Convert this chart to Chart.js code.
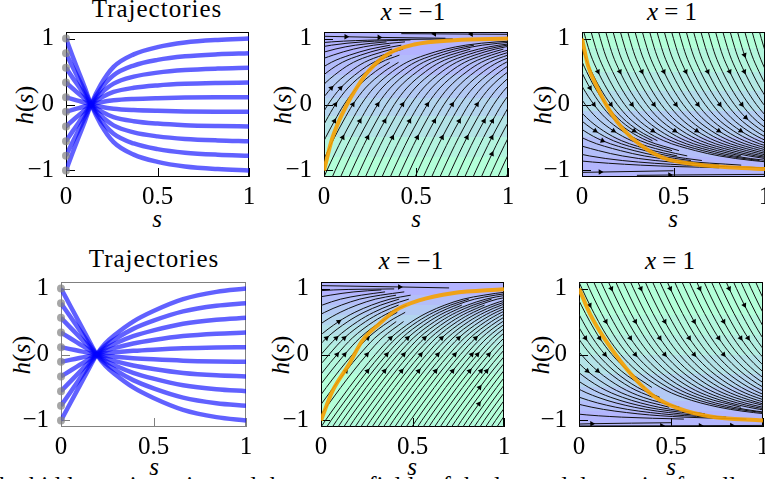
<!DOCTYPE html>
<html>
<head>
<meta charset="utf-8">
<title>Trajectories and vector fields</title>
<script src="https://cdn.jsdelivr.net/npm/chart.js@4.4.1/dist/chart.umd.min.js"></script>
<style>
  body { margin: 0; width: 765px; height: 479px; overflow: hidden; position: relative; background: #fff;
         font-family: 'Liberation Serif', 'DejaVu Serif', serif; color: #000; }
  canvas { position: absolute; }
  .lbl { position: absolute; font-size: 25px; line-height: 25px; white-space: nowrap; transform: translateX(-50%); }
  .ttl { letter-spacing: 1px; }
  .ylab { position: absolute; font-size: 25px; line-height: 25px; white-space: nowrap; transform: translate(-50%, -50%) rotate(-90deg); }
  .cap { position: absolute; left: -8px; top: 473px; font-size: 25px; line-height: 25px; white-space: nowrap; }
</style>
</head>
<body>
<div class="lbl ttl" style="left:157px; top:-4px">Trajectories</div>
<div class="lbl" style="left:413px; top:-1px"><i>x</i> = −1</div>
<div class="lbl" style="left:672px; top:-1px"><i>x</i> = 1</div>
<div class="lbl ttl" style="left:154px; top:246px">Trajectories</div>
<div class="lbl" style="left:411px; top:248px"><i>x</i> = −1</div>
<div class="lbl" style="left:670px; top:248px"><i>x</i> = 1</div>

<div class="lbl" style="left:157px; top:206px"><i>s</i></div>
<div class="lbl" style="left:416px; top:206px"><i>s</i></div>
<div class="lbl" style="left:673px; top:206px"><i>s</i></div>
<div class="lbl" style="left:154px; top:454px"><i>s</i></div>
<div class="lbl" style="left:412px; top:454px"><i>s</i></div>
<div class="lbl" style="left:671px; top:454px"><i>s</i></div>

<div class="ylab" style="left:24px; top:105px"><i>h</i>(<i>s</i>)</div>
<div class="ylab" style="left:282px; top:105px"><i>h</i>(<i>s</i>)</div>
<div class="ylab" style="left:542px; top:105px"><i>h</i>(<i>s</i>)</div>
<div class="ylab" style="left:21px; top:355px"><i>h</i>(<i>s</i>)</div>
<div class="ylab" style="left:280px; top:355px"><i>h</i>(<i>s</i>)</div>
<div class="ylab" style="left:540px; top:355px"><i>h</i>(<i>s</i>)</div>

<div class="cap">the hidden trajectories and the vector fields of the learned dynamics for all</div>

<script>
// axis ticks
const sTicks = [0, 0.5, 1];
const hTicks = [-1, 0, 1];

// trajectory panels: start values (grey dots) and the shape of the curve that starts at h = 1
const trajStarts = [1, 0.778, 0.556, 0.333, 0.111, -0.111, -0.333, -0.556, -0.778, -1];
const trajTopS = [0, 0.035, 0.07, 0.105, 0.137, 0.19, 0.26, 0.37, 0.5, 0.65, 0.83, 1.0];
const trajTopF = [1, 0.74, 0.49, 0.24, 0, -0.3, -0.57, -0.76, -0.87, -0.94, -0.98, -1.0];
const trajBotS = [0, 0.05, 0.1, 0.15, 0.193, 0.24, 0.292, 0.39, 0.5, 0.66, 0.84, 1.0];
const trajBotF = [1, 0.74, 0.48, 0.22, 0, -0.17, -0.3, -0.5, -0.66, -0.84, -0.95, -1.0];

// orange solution curves
const orangeS2 = [0, 0.043, 0.08, 0.125, 0.17, 0.24, 0.35, 0.49, 0.71, 1.0];
const orangeH2 = [-1, -0.53, -0.26, 0, 0.22, 0.5, 0.77, 0.91, 0.975, 1.0];
const orangeS3 = [0, 0.034, 0.08, 0.153, 0.226, 0.317, 0.444, 0.627, 1.0];
const orangeH3 = [1.0, 0.58, 0.28, -0.1, -0.38, -0.61, -0.81, -0.91, -0.98];
const orangeS5 = [0, 0.062, 0.153, 0.226, 0.317, 0.408, 0.536, 0.718, 1.0];
const orangeH5 = [-1, -0.56, -0.15, 0.21, 0.46, 0.67, 0.82, 0.93, 0.99];
const orangeS6 = [0, 0.061, 0.134, 0.225, 0.315, 0.406, 0.533, 0.714, 1.0];
const orangeH6 = [1, 0.61, 0.26, -0.1, -0.4, -0.63, -0.81, -0.94, -1.0];

// streamline shape per panel (field does not depend on s, so lines are shifted copies)
const baseS2 = [0, 0.016, 0.058, 0.102, 0.15, 0.202, 0.27, 0.372, 0.45, 0.55, 0.66, 0.77, 0.94, 1.2, 1.6];
const baseH2 = [-1.1, -1, -0.75, -0.5, -0.25, 0, 0.25, 0.5, 0.64, 0.75, 0.84, 0.9, 0.95, 0.98, 0.995];
const baseS3 = [0, 0.01, 0.038, 0.077, 0.124, 0.183, 0.245, 0.337, 0.437, 0.61, 0.74, 0.92, 1.27, 1.7];
const baseH3 = [1.1, 1, 0.75, 0.5, 0.25, 0, -0.2, -0.4, -0.55, -0.7, -0.78, -0.85, -0.92, -0.96];
const baseS5 = [0, 0.024, 0.088, 0.154, 0.223, 0.297, 0.38, 0.497, 0.585, 0.677, 0.777, 0.89, 1.02, 1.17, 1.5];
const baseH5 = [-1.1, -1, -0.75, -0.5, -0.25, 0, 0.25, 0.5, 0.64, 0.75, 0.84, 0.9, 0.95, 0.98, 0.995];
const baseS6 = [0, 0.016, 0.059, 0.106, 0.159, 0.226, 0.315, 0.443, 0.563, 0.76, 1.01, 1.26, 1.6];
const baseH6 = [1.1, 1, 0.75, 0.5, 0.25, 0, -0.25, -0.5, -0.65, -0.8, -0.9, -0.95, -0.98];

// where each streamline starts along s
const offsets2 = [-0.9, -0.73, -0.6, -0.5, -0.41, -0.35, -0.29, -0.23, -0.18, -0.14, -0.093, -0.045,
  0, 0.045, 0.09, 0.135, 0.18, 0.225, 0.27, 0.315, 0.36, 0.405, 0.45, 0.495, 0.54, 0.585, 0.63,
  0.675, 0.72, 0.765, 0.81, 0.855, 0.9, 0.945, 0.99];
const offsets3 = [-0.95, -0.7, -0.52, -0.4, -0.325, -0.265, -0.22, -0.165, -0.118, -0.08, -0.052, -0.025,
  0.01, 0.05, 0.09, 0.13, 0.17, 0.21, 0.25, 0.29, 0.33, 0.37, 0.41, 0.45, 0.49, 0.53, 0.57, 0.61,
  0.65, 0.69, 0.73, 0.77, 0.81, 0.85, 0.89, 0.93, 0.97];
const offsets5 = [-1.1, -0.84, -0.67, -0.565, -0.48, -0.4, -0.35, -0.297, -0.253, -0.209, -0.168, -0.125,
  -0.086, -0.046, 0, 0.031, 0.062, 0.093, 0.124, 0.155, 0.186, 0.217, 0.248, 0.279, 0.31, 0.341, 0.372,
  0.403, 0.434, 0.465, 0.496, 0.527, 0.558, 0.589, 0.62, 0.651, 0.682, 0.713, 0.744, 0.775, 0.806,
  0.837, 0.868, 0.899, 0.93, 0.961, 0.992];
const offsets6 = [-1.03, -0.69, -0.56, -0.46, -0.39, -0.326, -0.27, -0.214, -0.163, -0.124, -0.085, -0.047,
  0, 0.04, 0.08, 0.12, 0.16, 0.2, 0.24, 0.28, 0.32, 0.36, 0.4, 0.44, 0.48, 0.52, 0.56, 0.6, 0.64,
  0.68, 0.72, 0.76, 0.8, 0.84, 0.88, 0.92, 0.96, 1.0];

// h at which each streamline ends (the streamplot thins lines where they crowd)
const stops2 = [0.995, 0.98, 0.95, 0.95, 0.9, 0.9, 0.84, 0.84, 0.75, 0.75, 0.64, 0.64,
  0.98, 0.9, 0.95, 0.84, 0.98, 0.9, 0.95, 0.84, 0.98, 0.9, 0.95, 0.84, 0.98, 0.9, 0.95, 0.84,
  0.98, 0.9, 0.95, 0.84, 0.98, 0.9, 0.95];
const stops3 = [-0.96, -0.96, -0.92, -0.92, -0.85, -0.85, -0.78, -0.78, -0.7, -0.7, -0.55, -0.55,
  -0.96, -0.85, -0.92, -0.78, -0.96, -0.85, -0.92, -0.78, -0.96, -0.85, -0.92, -0.78, -0.96, -0.85,
  -0.92, -0.78, -0.96, -0.85, -0.92, -0.78, -0.96, -0.85, -0.92, -0.78, -0.96];
const stops5 = [0.995, 0.98, 0.95, 0.95, 0.9, 0.9, 0.84, 0.84, 0.75, 0.75, 0.64, 0.64, 0.5, 0.5,
  0.98, 0.84, 0.95, 0.75, 0.98, 0.84, 0.9, 0.75, 0.98, 0.84, 0.95, 0.75, 0.98, 0.84, 0.9, 0.75,
  0.98, 0.84, 0.95, 0.75, 0.98, 0.84, 0.9, 0.75, 0.98, 0.84, 0.95, 0.75, 0.98, 0.84, 0.9, 0.75, 0.98];
const stops6 = [-0.98, -0.98, -0.95, -0.95, -0.9, -0.9, -0.8, -0.8, -0.65, -0.65, -0.5, -0.5,
  -0.98, -0.9, -0.95, -0.8, -0.98, -0.9, -0.95, -0.8, -0.98, -0.9, -0.95, -0.8, -0.98, -0.9, -0.95, -0.8,
  -0.98, -0.9, -0.95, -0.8, -0.98, -0.9, -0.95, -0.8, -0.98, -0.9];

// which point of the base shape carries the arrow, cycled over the lines
const arrowPref2 = [3, 4, 5];
const arrowPref3 = [3, 7, 5];
const arrowPref5 = [4, 5, 6];
const arrowPref6 = [1, 3, 5, 4];

// short lines hugging the h = +-1 edges
const edges2 = [
  { s: [0, 0.12, 0.3, 0.66], h: [1.035, 1.028, 1.018, 1.005], arrows: [1, 2], dir: 1 },
  { s: [0.42, 0.6, 0.8, 1.0], h: [1.075, 1.072, 1.068, 1.065], arrows: [1, 2], dir: -1 }
];
const edges3 = [
  { s: [0, 0.1, 0.5], h: [-1.03, -1.025, -1.005], arrows: [1], dir: 1 },
  { s: [0.3, 0.48, 1.0], h: [-1.075, -1.07, -1.06], arrows: [1], dir: 1 }
];
const edges5 = [
  { s: [0, 0.43, 0.7], h: [1.045, 1.025, 1.01], arrows: [1], dir: 1 }
];
const edges6 = [
  { s: [0, 0.45, 0.66, 0.83, 1.0], h: [-1.085, -1.082, -1.08, -1.078, -1.076], arrows: [1, 2, 3], dir: 1 },
  { s: [0, 0.07, 0.5], h: [-1.055, -1.05, -1.035], arrows: [1], dir: 1 }
];

// background bands: edges in h, colour position (0 = blue, 1 = green)
const bandEdges2 = [-1.1, -0.8, -0.5, -0.18, 0.1, 0.45, 0.75, 1.1];
const bandT2 = [1, 0.85, 0.65, 0.45, 0.3, 0.12, 0.0];
const bandEdges3 = [-1.1, -0.8, -0.5, -0.1, 0.2, 0.5, 0.85, 1.1];
const bandT3 = [0.05, 0.15, 0.35, 0.55, 0.72, 0.88, 1.0];
const bandEdges5 = [-1.1, -1.03, -0.3, 0, 0.15, 0.3, 0.45, 0.6, 0.75, 0.9, 1.1];
const bandT5 = [0.93, 1.0, 0.9, 0.82, 0.72, 0.6, 0.45, 0.3, 0.15, 0.0];
const bandEdges6 = [-1.1, -0.85, -0.7, -0.5, -0.3, 0, 0.3, 0.6, 1.1];
const bandT6 = [0.05, 0.15, 0.3, 0.45, 0.62, 0.78, 0.9, 1.0];

function winter(t) {
  // winter colormap at alpha 0.3 over white
  const r = 0, g = 255 * t, b = 255 - 127 * t;
  const mix = c => Math.round(c * 0.3 + 255 * 0.7);
  return `rgb(${mix(r)},${mix(g)},${mix(b)})`;
}

function fmtTick(v) {
  return v < 0 ? '\u2212' + Math.abs(v) : String(v);
}

function curve(sv, hv) {
  return sv.map((s, i) => ({ x: s, y: hv[i] }));
}

function arrowAngle(c) {
  const d = c.dataset.data, i = c.dataIndex;
  if (i === undefined || !d.length) return 0;
  const a = d[Math.max(i - 1, 0)], b = d[Math.min(i + 1, d.length - 1)];
  const xs = c.chart.scales.x, ys = c.chart.scales.y;
  const dx = xs.getPixelForValue(b.x) - xs.getPixelForValue(a.x);
  const dy = ys.getPixelForValue(b.y) - ys.getPixelForValue(a.y);
  let ang = Math.atan2(dx, -dy) * 180 / Math.PI;
  if (c.dataset.dir < 0) ang += 180;
  return ang;
}

function streamLine(data, arrows, dir) {
  return {
    data, arrows, dir,
    borderColor: '#111', borderWidth: 1, cubicInterpolationMode: 'monotone',
    pointStyle: 'triangle', pointBackgroundColor: '#000', pointBorderWidth: 0,
    pointRadius: c => (c.dataset.arrows.includes(c.dataIndex) ? 3.2 : 0),
    pointRotation: arrowAngle
  };
}

function trajDatasets(profS, profF) {
  const sets = trajStarts.map(h0 => ({
    data: profS.map((s, i) => ({ x: s, y: h0 * profF[i] })),
    borderColor: 'rgba(0,0,255,0.62)', borderWidth: 4.5, pointRadius: 0,
    cubicInterpolationMode: 'monotone'
  }));
  sets.unshift({
    data: trajStarts.map(h0 => ({ x: 0, y: h0 })), showLine: false, pointRadius: 4,
    pointBackgroundColor: 'rgba(128,128,128,0.7)', pointBorderWidth: 0, clip: false
  });
  return sets;
}

function streamDatasets(baseS, baseH, offsets, stops, pref, edges, oS, oH) {
  const sets = [{
    data: curve(oS, oH), borderColor: 'rgba(245,160,0,0.9)', borderWidth: 4,
    pointRadius: 0, cubicInterpolationMode: 'monotone'
  }];
  const rising = baseH[baseH.length - 1] > baseH[0];
  offsets.forEach((o, j) => {
    const stop = stops[j];
    const data = baseS.map((s, i) => ({ x: s + o, y: baseH[i] }))
      .filter(p => (rising ? p.y <= stop + 1e-9 : p.y >= stop - 1e-9));
    const inside = k => data[k].x > 0.03 && data[k].x < 0.92 && Math.abs(data[k].y) < 1.02;
    const want = pref[j % pref.length];
    let best = -1;
    for (let k = 0; k < data.length; k++) {
      if (inside(k) && Math.abs(k - want) <= 2 && (best < 0 || Math.abs(k - want) < Math.abs(best - want))) best = k;
    }
    sets.push(streamLine(data, best >= 0 ? [best] : [], 1));
  });
  edges.forEach(e => sets.push(streamLine(curve(e.s, e.h), e.arrows, e.dir)));
  return sets;
}

function panelPlugin(edges, tvals, frameColor) {
  return {
    id: 'panelFrame',
    beforeDatasetsDraw(chart) {
      const { ctx, chartArea: a, scales: { x, y } } = chart;
      ctx.save();
      if (edges) {
        for (let i = 0; i < tvals.length; i++) {
          const top = Math.round(Math.max(y.getPixelForValue(edges[i + 1]), a.top));
          const bot = Math.round(Math.min(y.getPixelForValue(edges[i]), a.bottom));
          ctx.fillStyle = winter(tvals[i]);
          ctx.fillRect(a.left, top, a.right - a.left, bot - top);
        }
      }
      ctx.strokeStyle = frameColor;
      ctx.lineWidth = 1;
      ctx.strokeRect(Math.round(a.left) + 0.5, Math.round(a.top) + 0.5,
        Math.round(a.right - a.left) - 1, Math.round(a.bottom - a.top) - 1);
      ctx.beginPath();
      hTicks.forEach(v => {
        const py = Math.round(y.getPixelForValue(v)) + 0.5;
        ctx.moveTo(a.left, py); ctx.lineTo(a.left + 9, py);
      });
      sTicks.forEach(v => {
        const px = Math.round(x.getPixelForValue(v)) + 0.5;
        ctx.moveTo(px, a.bottom); ctx.lineTo(px, a.bottom - 9);
      });
      ctx.stroke();
      ctx.restore();
    }
  };
}

function makePanel(box, datasets, edges, tvals, frameColor) {
  const L = 62, T = 8, R = 14, B = 42;
  const cv = document.createElement('canvas');
  cv.width = box.w + L + R;
  cv.height = box.h + T + B;
  cv.style.left = (box.x - L) + 'px';
  cv.style.top = (box.y - T) + 'px';
  document.body.appendChild(cv);
  const font = { family: "'Liberation Serif', serif", size: 25 };
  const grid = { display: false, drawTicks: false, tickLength: 0 };
  new Chart(cv, {
    type: 'line',
    data: { datasets },
    options: {
      responsive: false, animation: false, events: [],
      layout: { autoPadding: false, padding: { left: 0, top: T, right: R, bottom: 0 } },
      plugins: { legend: { display: false }, tooltip: { enabled: false } },
      scales: {
        x: {
          type: 'linear', min: 0, max: 1, grid, border: { display: false },
          ticks: { font, color: '#000', padding: 5, maxRotation: 0, autoSkip: false, callback: fmtTick },
          afterBuildTicks: s => { s.ticks = sTicks.map(v => ({ value: v })); },
          afterFit: s => { s.height = B; s.paddingLeft = 0; s.paddingRight = 0; }
        },
        y: {
          type: 'linear', min: -1.1, max: 1.1, grid, border: { display: false },
          ticks: { font, color: '#000', padding: 12, autoSkip: false, callback: fmtTick },
          afterBuildTicks: s => { s.ticks = hTicks.map(v => ({ value: v })); },
          afterFit: s => { s.width = L; s.paddingTop = 0; s.paddingBottom = 0; }
        }
      }
    },
    plugins: [panelPlugin(edges, tvals, frameColor)]
  });
}

makePanel({ x: 66, y: 32, w: 183, h: 145 }, trajDatasets(trajTopS, trajTopF), null, null, '#000');
makePanel({ x: 324, y: 32, w: 184, h: 145 },
  streamDatasets(baseS2, baseH2, offsets2, stops2, arrowPref2, edges2, orangeS2, orangeH2), bandEdges2, bandT2, '#000');
makePanel({ x: 582, y: 32, w: 183, h: 145 },
  streamDatasets(baseS3, baseH3, offsets3, stops3, arrowPref3, edges3, orangeS3, orangeH3), bandEdges3, bandT3, '#000');
makePanel({ x: 61, y: 282, w: 185, h: 145 }, trajDatasets(trajBotS, trajBotF), null, null, '#808080');
makePanel({ x: 321, y: 282, w: 183, h: 145 },
  streamDatasets(baseS5, baseH5, offsets5, stops5, arrowPref5, edges5, orangeS5, orangeH5), bandEdges5, bandT5, '#000');
makePanel({ x: 579, y: 282, w: 184, h: 145 },
  streamDatasets(baseS6, baseH6, offsets6, stops6, arrowPref6, edges6, orangeS6, orangeH6), bandEdges6, bandT6, '#000');
</script>
</body>
</html>
